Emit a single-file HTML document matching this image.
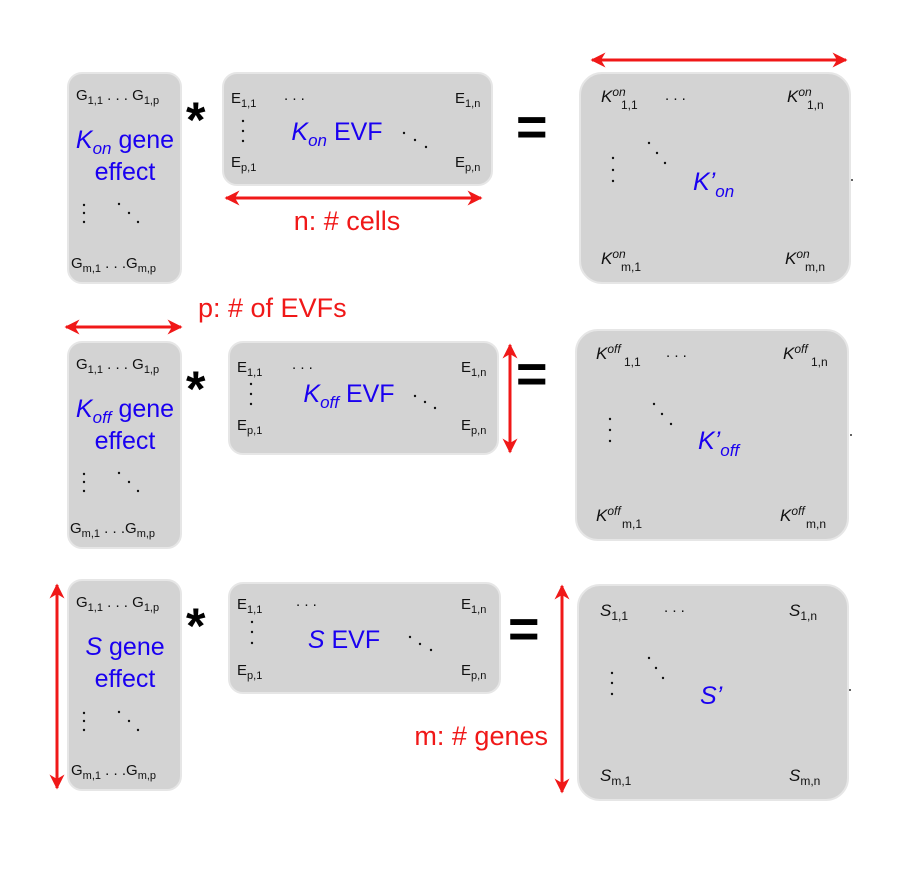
<!DOCTYPE html>
<html><head><meta charset="utf-8"><style>
html,body{margin:0;padding:0;background:#fff}
svg{display:block}
text{font-family:"Liberation Sans",Arial,sans-serif}
.m{font-size:15px;fill:#111}
.s{font-size:11px}
.k{font-size:17px;fill:#111;font-style:italic}
.ks{font-size:12px;fill:#111}
.b{fill:#1a00f0;font-size:25px}
.r{fill:#f01818;font-size:27px}
.box{fill:#d3d3d3;stroke:#e6e6e6;stroke-width:2}
.d{fill:#111}
</style></head><body>
<svg width="908" height="881" viewBox="0 0 908 881" xmlns="http://www.w3.org/2000/svg">
<defs>
<marker id="ah" viewBox="0 0 10 10" refX="9" refY="5" markerWidth="6" markerHeight="5" orient="auto-start-reverse" markerUnits="strokeWidth">
<path d="M0,0 L10,5 L0,10 L3,5 z" fill="#f01818"/></marker>
</defs>

<!-- ROW 1 -->
<g>
 <rect class="box" x="68" y="73" width="113" height="210" rx="14"/>
 <text class="m" x="76" y="100">G<tspan class="s" dy="4">1,1</tspan><tspan dy="-4"> . . . G</tspan><tspan class="s" dy="4">1,p</tspan></text>
 <text class="b" x="125" y="148" text-anchor="middle"><tspan font-style="italic">K</tspan><tspan font-style="italic" font-size="17" dy="6">on</tspan><tspan dy="-6"> gene</tspan></text>
 <text class="b" x="125" y="180" text-anchor="middle">effect</text>
 <circle class="d" cx="84" cy="205" r="1.2"/><circle class="d" cx="84" cy="213" r="1.2"/><circle class="d" cx="84" cy="222" r="1.2"/>
 <circle class="d" cx="119" cy="204" r="1.2"/><circle class="d" cx="129" cy="213" r="1.2"/><circle class="d" cx="138" cy="222" r="1.2"/>
 <text class="m" x="71" y="268">G<tspan class="s" dy="4">m,1</tspan><tspan dy="-4"> . . .G</tspan><tspan class="s" dy="4">m,p</tspan></text>
</g>
<text x="186" y="137" font-size="50" font-weight="bold">*</text>
<g>
 <rect class="box" x="223" y="73" width="269" height="112" rx="14"/>
 <text class="m" x="231" y="103">E<tspan class="s" dy="4">1,1</tspan></text>
 <text class="m" x="284" y="100">. . .</text>
 <text class="m" x="455" y="103">E<tspan class="s" dy="4">1,n</tspan></text>
 <circle class="d" cx="243" cy="121" r="1.2"/><circle class="d" cx="243" cy="131" r="1.2"/><circle class="d" cx="243" cy="141" r="1.2"/>
 <text class="b" x="337" y="140" text-anchor="middle"><tspan font-style="italic">K</tspan><tspan font-style="italic" font-size="17" dy="6">on</tspan><tspan dy="-6"> EVF</tspan></text>
 <circle class="d" cx="404" cy="133" r="1.2"/><circle class="d" cx="415" cy="140" r="1.2"/><circle class="d" cx="426" cy="147" r="1.2"/>
 <text class="m" x="231" y="167">E<tspan class="s" dy="4">p,1</tspan></text>
 <text class="m" x="455" y="167">E<tspan class="s" dy="4">p,n</tspan></text>
</g>
<text x="516" y="145" font-size="54" font-weight="bold">=</text>
<g>
 <rect class="box" x="580" y="73" width="270" height="210" rx="22"/>
 <text class="k" x="601" y="102">K<tspan class="ks" dy="-6">on</tspan></text><text class="ks" x="621" y="109">1,1</text>
 <text class="m" x="665" y="100">. . .</text>
 <text class="k" x="787" y="102">K<tspan class="ks" dy="-6">on</tspan></text><text class="ks" x="807" y="109">1,n</text>
 <circle class="d" cx="613" cy="158" r="1.2"/><circle class="d" cx="613" cy="170" r="1.2"/><circle class="d" cx="613" cy="181" r="1.2"/>
 <circle class="d" cx="649" cy="143" r="1.2"/><circle class="d" cx="657" cy="153" r="1.2"/><circle class="d" cx="665" cy="163" r="1.2"/>
 <text class="b" x="693" y="190" font-style="italic">K’<tspan font-size="17" dy="7">on</tspan></text>
 <text class="k" x="601" y="264">K<tspan class="ks" dy="-6">on</tspan></text><text class="ks" x="621" y="271">m,1</text>
 <text class="k" x="785" y="264">K<tspan class="ks" dy="-6">on</tspan></text><text class="ks" x="805" y="271">m,n</text>
</g>
<line x1="592" y1="60" x2="846" y2="60" stroke="#f01818" stroke-width="3" marker-start="url(#ah)" marker-end="url(#ah)"/>
<line x1="226" y1="198" x2="481" y2="198" stroke="#f01818" stroke-width="3" marker-start="url(#ah)" marker-end="url(#ah)"/>
<text class="r" x="347" y="230" text-anchor="middle">n: # cells</text>

<!-- ROW 2 -->
<text class="r" x="198" y="317">p: # of EVFs</text>
<line x1="66" y1="327" x2="181" y2="327" stroke="#f01818" stroke-width="3" marker-start="url(#ah)" marker-end="url(#ah)"/>
<g transform="translate(0,269)">
 <rect class="box" x="68" y="73" width="113" height="206" rx="14"/>
 <text class="m" x="76" y="100">G<tspan class="s" dy="4">1,1</tspan><tspan dy="-4"> . . . G</tspan><tspan class="s" dy="4">1,p</tspan></text>
 <text class="b" x="125" y="148" text-anchor="middle"><tspan font-style="italic">K</tspan><tspan font-style="italic" font-size="17" dy="6">off</tspan><tspan dy="-6"> gene</tspan></text>
 <text class="b" x="125" y="180" text-anchor="middle">effect</text>
 <circle class="d" cx="84" cy="205" r="1.2"/><circle class="d" cx="84" cy="213" r="1.2"/><circle class="d" cx="84" cy="222" r="1.2"/>
 <circle class="d" cx="119" cy="204" r="1.2"/><circle class="d" cx="129" cy="213" r="1.2"/><circle class="d" cx="138" cy="222" r="1.2"/>
 <text class="m" x="70" y="264">G<tspan class="s" dy="4">m,1</tspan><tspan dy="-4"> . . .G</tspan><tspan class="s" dy="4">m,p</tspan></text>
</g>
<text x="186" y="406" font-size="50" font-weight="bold">*</text>
<g transform="translate(6,269)">
 <rect class="box" x="223" y="73" width="269" height="112" rx="14"/>
 <text class="m" x="231" y="103">E<tspan class="s" dy="4">1,1</tspan></text>
 <text class="m" x="286" y="100">. . .</text>
 <text class="m" x="455" y="103">E<tspan class="s" dy="4">1,n</tspan></text>
 <circle class="d" cx="245" cy="115" r="1.2"/><circle class="d" cx="245" cy="125" r="1.2"/><circle class="d" cx="245" cy="135" r="1.2"/>
 <text class="b" x="343" y="133" text-anchor="middle"><tspan font-style="italic">K</tspan><tspan font-style="italic" font-size="17" dy="6">off</tspan><tspan dy="-6"> EVF</tspan></text>
 <circle class="d" cx="409" cy="127" r="1.2"/><circle class="d" cx="419" cy="133" r="1.2"/><circle class="d" cx="429" cy="139" r="1.2"/>
 <text class="m" x="231" y="161">E<tspan class="s" dy="4">p,1</tspan></text>
 <text class="m" x="455" y="161">E<tspan class="s" dy="4">p,n</tspan></text>
</g>
<line x1="510" y1="345" x2="510" y2="452" stroke="#f01818" stroke-width="3" marker-start="url(#ah)" marker-end="url(#ah)"/>
<text x="516" y="392" font-size="54" font-weight="bold">=</text>
<g transform="translate(-4,257)">
 <rect class="box" x="580" y="73" width="272" height="210" rx="22"/>
 <text class="k" x="600" y="102">K<tspan class="ks" dy="-6">off</tspan></text><text class="ks" x="628" y="109">1,1</text>
 <text class="m" x="670" y="100">. . .</text>
 <text class="k" x="787" y="102">K<tspan class="ks" dy="-6">off</tspan></text><text class="ks" x="815" y="109">1,n</text>
 <circle class="d" cx="614" cy="162" r="1.2"/><circle class="d" cx="614" cy="173" r="1.2"/><circle class="d" cx="614" cy="184" r="1.2"/>
 <circle class="d" cx="658" cy="147" r="1.2"/><circle class="d" cx="666" cy="157" r="1.2"/><circle class="d" cx="675" cy="167" r="1.2"/>
 <text class="b" x="702" y="192" font-style="italic">K’<tspan font-size="17" dy="7">off</tspan></text>
 <text class="k" x="600" y="264">K<tspan class="ks" dy="-6">off</tspan></text><text class="ks" x="626" y="271">m,1</text>
 <text class="k" x="784" y="264">K<tspan class="ks" dy="-6">off</tspan></text><text class="ks" x="810" y="271">m,n</text>
</g>

<!-- ROW 3 -->
<line x1="57" y1="585" x2="57" y2="788" stroke="#f01818" stroke-width="3" marker-start="url(#ah)" marker-end="url(#ah)"/>
<g transform="translate(0,507)">
 <rect class="box" x="68" y="73" width="113" height="210" rx="14"/>
 <text class="m" x="76" y="100">G<tspan class="s" dy="4">1,1</tspan><tspan dy="-4"> . . . G</tspan><tspan class="s" dy="4">1,p</tspan></text>
 <text class="b" x="125" y="148" text-anchor="middle"><tspan font-style="italic">S</tspan> gene</text>
 <text class="b" x="125" y="180" text-anchor="middle">effect</text>
 <circle class="d" cx="84" cy="206" r="1.2"/><circle class="d" cx="84" cy="214" r="1.2"/><circle class="d" cx="84" cy="223" r="1.2"/>
 <circle class="d" cx="119" cy="205" r="1.2"/><circle class="d" cx="129" cy="214" r="1.2"/><circle class="d" cx="138" cy="223" r="1.2"/>
 <text class="m" x="71" y="268">G<tspan class="s" dy="4">m,1</tspan><tspan dy="-4"> . . .G</tspan><tspan class="s" dy="4">m,p</tspan></text>
</g>
<text x="186" y="643" font-size="50" font-weight="bold">*</text>
<g transform="translate(6,510)">
 <rect class="box" x="223" y="73" width="271" height="110" rx="14"/>
 <text class="m" x="231" y="99">E<tspan class="s" dy="4">1,1</tspan></text>
 <text class="m" x="290" y="96">. . .</text>
 <text class="m" x="455" y="99">E<tspan class="s" dy="4">1,n</tspan></text>
 <circle class="d" cx="246" cy="112" r="1.2"/><circle class="d" cx="246" cy="122" r="1.2"/><circle class="d" cx="246" cy="133" r="1.2"/>
 <text class="b" x="338" y="138" text-anchor="middle"><tspan font-style="italic">S</tspan> EVF</text>
 <circle class="d" cx="404" cy="127" r="1.2"/><circle class="d" cx="414" cy="134" r="1.2"/><circle class="d" cx="425" cy="140" r="1.2"/>
 <text class="m" x="231" y="165">E<tspan class="s" dy="4">p,1</tspan></text>
 <text class="m" x="455" y="165">E<tspan class="s" dy="4">p,n</tspan></text>
</g>
<text x="508" y="647" font-size="54" font-weight="bold">=</text>
<line x1="562" y1="586" x2="562" y2="792" stroke="#f01818" stroke-width="3" marker-start="url(#ah)" marker-end="url(#ah)"/>
<text class="r" x="548" y="745" text-anchor="end">m: # genes</text>
<g transform="translate(-2,512)">
 <rect class="box" x="580" y="73" width="270" height="215" rx="22"/>
 <text class="k" x="602" y="104">S<tspan class="ks" font-style="normal" dy="4">1,1</tspan></text>
 <text class="m" x="666" y="100">. . .</text>
 <text class="k" x="791" y="104">S<tspan class="ks" font-style="normal" dy="4">1,n</tspan></text>
 <circle class="d" cx="614" cy="161" r="1.2"/><circle class="d" cx="614" cy="171" r="1.2"/><circle class="d" cx="614" cy="182" r="1.2"/>
 <circle class="d" cx="651" cy="146" r="1.2"/><circle class="d" cx="658" cy="156" r="1.2"/><circle class="d" cx="665" cy="166" r="1.2"/>
 <text class="b" x="702" y="192" font-style="italic">S’</text>
 <text class="k" x="602" y="269">S<tspan class="ks" font-style="normal" dy="4">m,1</tspan></text>
 <text class="k" x="791" y="269">S<tspan class="ks" font-style="normal" dy="4">m,n</tspan></text>
</g>
<circle cx="852" cy="180" r="1" fill="#333"/>
<circle cx="851" cy="435" r="1" fill="#333"/>
<circle cx="850" cy="690" r="1" fill="#333"/>
</svg>
</body></html>
